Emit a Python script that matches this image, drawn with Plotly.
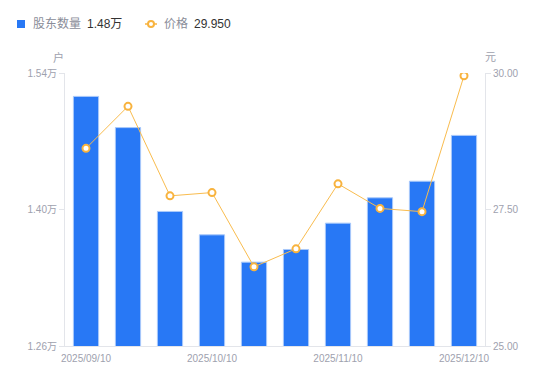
import plotly.graph_objects as go

# Data
periods = list(range(10))  # ten reporting periods, evenly spaced
holders_wan = [1.516, 1.484, 1.398, 1.374, 1.346, 1.359, 1.386, 1.412, 1.429, 1.476]
price = [28.62, 29.39, 27.75, 27.81, 26.45, 26.78, 27.97, 27.52, 27.46, 29.95]
tick_pos = [0, 3, 6, 9]
tick_labels = ["2025/09/10", "2025/10/10", "2025/11/10", "2025/12/10"]
left_ticks = [1.26, 1.40, 1.54]
right_ticks = [25.00, 27.50, 30.00]

FONT = "Liberation Sans, Noto Sans CJK SC, sans-serif"
GRAY = "#9EA1AE"
LEG_GRAY = "#8A8D99"
DARK = "#333333"
AXIS = "#E3E5EA"
BLUE = "#2878F5"
ORANGE = "#F8B33E"

L, R, T, B = 65, 65, 73, 35
W, H = 550, 381
PW, PH = W - L - R, H - T - B


def px(x):
    return (x - L) / PW


def py(y):
    return (H - B - y) / PH


fig = go.Figure()
fig.add_trace(go.Bar(
    x=periods, y=holders_wan, yaxis="y", name="股东数量",
    marker=dict(color=BLUE, line=dict(color="#A9C9FA", width=1)),
    width=0.6,
))
fig.add_trace(go.Scatter(
    x=periods, y=price, yaxis="y2", mode="lines+markers", name="价格",
    line=dict(color="#F9BC4E", width=1),
    marker=dict(symbol="circle", size=7, color="white", line=dict(color=ORANGE, width=2)),
))

ly = py(24)
shapes = [
    dict(type="rect", xref="paper", yref="paper", x0=px(17), x1=px(25), y0=py(28), y1=py(20),
         fillcolor=BLUE, line=dict(width=0)),
    dict(type="line", xref="paper", yref="paper", x0=px(145), x1=px(157), y0=ly, y1=ly,
         line=dict(color=ORANGE, width=1.5)),
    dict(type="circle", xref="paper", yref="paper", x0=px(148), x1=px(154), y0=py(27), y1=py(21),
         fillcolor="white", line=dict(color=ORANGE, width=2)),
]

annotations = [
    dict(text="股东数量", x=px(31), y=ly, font=dict(size=12, color=LEG_GRAY)),
    dict(text="%.2f万" % holders_wan[-1], x=px(85), y=ly, font=dict(size=12, color=DARK)),
    dict(text="价格", x=px(162), y=ly, font=dict(size=12, color=LEG_GRAY)),
    dict(text="%.3f" % price[-1], x=px(192), y=ly, font=dict(size=12, color=DARK)),
]
for a in annotations:
    a.update(xref="paper", yref="paper", showarrow=False, xanchor="left", yanchor="middle")
annotations += [
    dict(text="户", xref="paper", yref="paper", x=px(58), y=py(57), showarrow=False,
         font=dict(size=11, color=GRAY), xanchor="center", yanchor="middle"),
    dict(text="元", xref="paper", yref="paper", x=px(490), y=py(57), showarrow=False,
         font=dict(size=11, color=GRAY), xanchor="center", yanchor="middle"),
]

fig.update_layout(
    width=W, height=H,
    margin=dict(l=L, r=R, t=T, b=B, autoexpand=False),
    paper_bgcolor="white", plot_bgcolor="white",
    font=dict(family=FONT, size=12, color="#666"),
    showlegend=False,
    xaxis=dict(range=[-0.5, 9.5], tickmode="array", tickvals=tick_pos, ticktext=tick_labels,
               showgrid=False, zeroline=False, showline=True, linecolor=AXIS, linewidth=1,
               ticks="", ticklabelstandoff=3, tickfont=dict(size=10, color=GRAY),
               fixedrange=True, automargin=False),
    yaxis=dict(range=[1.26, 1.54], tickmode="array", tickvals=left_ticks,
               ticktext=["%.2f万" % v for v in left_ticks], automargin=False,
               showgrid=False, zeroline=False, showline=True, linecolor=AXIS, linewidth=1,
               ticks="outside", ticklen=5, tickcolor=AXIS, tickfont=dict(size=10, color=GRAY)),
    yaxis2=dict(range=[25, 30], overlaying="y", side="right", tickmode="array",
                tickvals=right_ticks, ticktext=["%.2f" % v for v in right_ticks], automargin=False,
                showgrid=False, zeroline=False, showline=True, linecolor=AXIS, linewidth=1,
                ticks="outside", ticklen=5, tickcolor=AXIS, tickfont=dict(size=10, color=GRAY)),
    shapes=shapes,
    annotations=annotations,
)

fig.write_html("out.html", config={"displayModeBar": False},
               post_script="document.body.style.margin='0';")
